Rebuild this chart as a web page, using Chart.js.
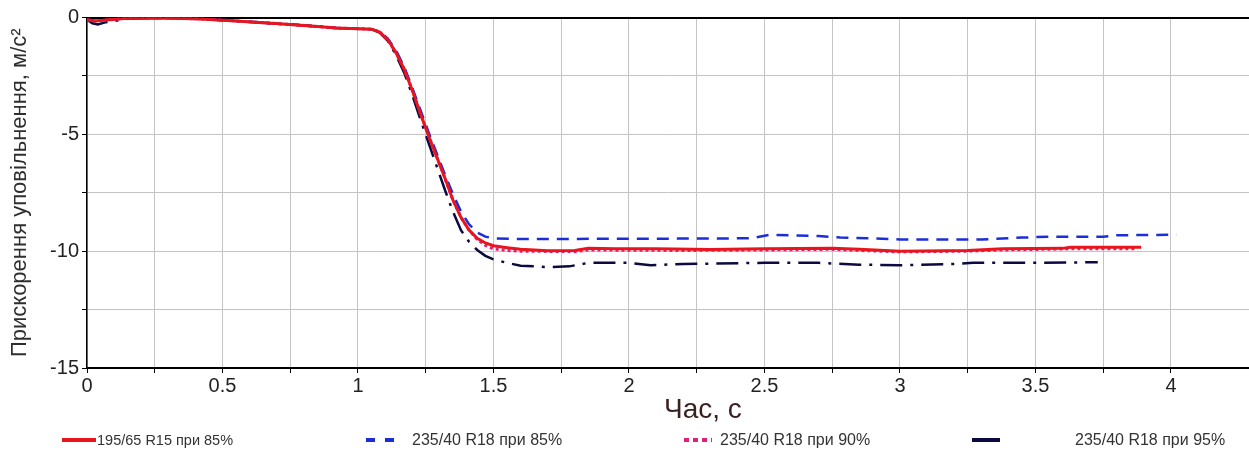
<!DOCTYPE html>
<html>
<head>
<meta charset="utf-8">
<script src="https://cdn.jsdelivr.net/npm/chart.js@4.4.1/dist/chart.umd.min.js"></script>
<style>
  html, body { margin: 0; padding: 0; background: #fff; }
  #wrap { position: relative; width: 1249px; height: 452px; overflow: hidden; font-family: "Liberation Sans", Arial, sans-serif; }
  #c { position: absolute; left: 0; top: 0; }
  #xtitle { position: absolute; left: 664px; top: 393px; font-size: 28px; color: #3a1f1f; white-space: nowrap; }
  .leg { position: absolute; top: 430px; height: 20px; display: flex; align-items: center; color: #333; white-space: nowrap; }
  .leg canvas { display: block; }
</style>
</head>
<body>
<div id="wrap">
  <canvas id="c" width="1249" height="452"></canvas>
  <div id="xtitle">Час, с</div>
</div>
<script>
// ---- data (time in s, deceleration in m/s^2) ----
const seriesLabels = ["195/65 R15 при 85%", "235/40 R18 при 85%", "235/40 R18 при 90%", "235/40 R18 при 95%"];

const redT = [0, 0.03, 0.08, 0.15, 0.3, 0.42, 0.55, 0.65, 0.75, 0.85, 0.92, 1.0, 1.05, 1.08, 1.11, 1.14, 1.17, 1.20, 1.23, 1.26, 1.29, 1.32, 1.35, 1.38, 1.41, 1.44, 1.47, 1.50, 1.55, 1.60, 1.70, 1.80, 1.85, 1.95, 2.1, 2.3, 2.5, 2.75, 2.85, 3.0, 3.25, 3.38, 3.6, 3.63, 3.89];
const redA = [-0.1, -0.15, -0.1, -0.03, -0.02, -0.06, -0.15, -0.22, -0.3, -0.38, -0.45, -0.48, -0.5, -0.62, -0.95, -1.5, -2.2, -3.1, -4.1, -5.05, -5.95, -6.85, -7.8, -8.55, -9.1, -9.45, -9.65, -9.77, -9.85, -9.92, -9.98, -9.97, -9.88, -9.9, -9.9, -9.93, -9.9, -9.87, -9.92, -10.0, -9.97, -9.9, -9.88, -9.83, -9.83];

const blueT = [0, 0.03, 0.08, 0.15, 0.3, 0.42, 0.55, 0.65, 0.75, 0.85, 0.92, 1.0, 1.05, 1.08, 1.11, 1.14, 1.17, 1.20, 1.23, 1.26, 1.29, 1.32, 1.35, 1.38, 1.41, 1.44, 1.47, 1.50, 1.6, 2.0, 2.45, 2.52, 2.7, 2.78, 2.9, 3.0, 3.3, 3.45, 3.55, 3.75, 3.8, 4.02];
const blueA = [-0.1, -0.15, -0.1, -0.03, -0.02, -0.06, -0.15, -0.22, -0.3, -0.38, -0.45, -0.48, -0.5, -0.6, -0.9, -1.4, -2.1, -3.0, -3.95, -4.9, -5.8, -6.7, -7.55, -8.3, -8.85, -9.2, -9.38, -9.45, -9.48, -9.47, -9.45, -9.3, -9.35, -9.42, -9.45, -9.5, -9.5, -9.42, -9.38, -9.38, -9.32, -9.3];

const pinkT = [0, 0.03, 0.08, 0.15, 0.3, 0.42, 0.55, 0.65, 0.75, 0.85, 0.92, 1.0, 1.05, 1.08, 1.11, 1.14, 1.17, 1.20, 1.23, 1.26, 1.29, 1.32, 1.35, 1.38, 1.41, 1.44, 1.47, 1.50, 1.55, 1.6, 1.8, 1.85, 2.2, 2.5, 2.75, 2.85, 3.0, 3.25, 3.38, 3.63, 3.87];
const pinkA = [-0.1, -0.15, -0.1, -0.03, -0.02, -0.06, -0.15, -0.22, -0.3, -0.38, -0.45, -0.48, -0.5, -0.62, -0.95, -1.5, -2.2, -3.1, -4.1, -5.05, -5.95, -6.85, -7.8, -8.55, -9.1, -9.5, -9.75, -9.9, -9.97, -10.0, -10.02, -9.95, -9.97, -9.95, -9.92, -9.97, -10.03, -10.0, -9.95, -9.9, -9.9];

const blackT = [0, 0.02, 0.04, 0.07, 0.1, 0.15, 0.3, 0.42, 0.55, 0.65, 0.75, 0.85, 0.92, 1.0, 1.05, 1.08, 1.11, 1.14, 1.17, 1.20, 1.23, 1.26, 1.29, 1.32, 1.35, 1.38, 1.41, 1.44, 1.47, 1.50, 1.55, 1.6, 1.7, 1.78, 1.85, 2.0, 2.08, 2.2, 2.5, 2.7, 2.85, 3.0, 3.2, 3.27, 3.5, 3.73];
const blackA = [-0.1, -0.25, -0.3, -0.2, -0.15, -0.05, -0.02, -0.06, -0.15, -0.22, -0.3, -0.38, -0.45, -0.48, -0.5, -0.65, -1.0, -1.6, -2.35, -3.3, -4.35, -5.35, -6.35, -7.35, -8.3, -9.1, -9.6, -9.95, -10.2, -10.35, -10.5, -10.62, -10.68, -10.65, -10.5, -10.5, -10.6, -10.55, -10.5, -10.5, -10.58, -10.6, -10.55, -10.5, -10.5, -10.47];

const xTickStep = 0.25, xLabelStep = 0.5;
const yTickStep = 2.5, yLabelStep = 5;

// ---- styles ----
const styles = [
  { color: "#e8141e", width: 3, dash: [] },
  { color: "#1c2ed6", width: 2.5, dash: [12, 8] },
  { color: "#e0207a", width: 3, dash: [3, 3] },
  { color: "#0b0b40", width: 2.5, dash: [22, 8, 3, 8] }
];
const legendLayout = [
  { left: 62, marker: 34, gap: 1, font: 14.5 },
  { left: 366, marker: 30, gap: 16, font: 16 },
  { left: 684, marker: 28, gap: 8, font: 16 },
  { left: 972, marker: 28, gap: 75, font: 16 }
];

const toPts = (t, a) => t.map((v, i) => ({ x: v, y: a[i] }));
const series = [toPts(redT, redA), toPts(blueT, blueA), toPts(pinkT, pinkA), toPts(blackT, blackA)];

const FONT = '"Liberation Sans", Arial, sans-serif';
const near = (v, s) => Math.abs(v / s - Math.round(v / s)) < 1e-6;

const chart = new Chart(document.getElementById('c'), {
  type: 'line',
  data: {
    datasets: series.map((d, i) => ({
      label: seriesLabels[i],
      data: d,
      borderColor: styles[i].color,
      backgroundColor: styles[i].color,
      borderWidth: styles[i].width,
      borderDash: styles[i].dash,
      pointRadius: 0,
      tension: 0,
      fill: false
    }))
  },
  options: {
    responsive: false,
    animation: false,
    events: [],
    layout: { padding: { top: 17.5, left: 0, right: 0, bottom: 0 } },
    plugins: { legend: { display: false }, tooltip: { enabled: false } },
    scales: {
      x: {
        type: 'linear', position: 'bottom', min: 0, max: 4.288,
        afterFit: s => { s.height = 84; },
        afterBuildTicks: s => { s.ticks = s.ticks.filter(t => near(t.value, xTickStep)); },
        ticks: {
          stepSize: xTickStep, autoSkip: false, maxRotation: 0, padding: 1,
          color: '#222', font: { family: FONT, size: 20 },
          callback: v => near(v, xLabelStep) ? String(Math.round(v * 100) / 100) : ''
        },
        grid: { color: '#c4c4c4', lineWidth: 1, tickLength: 5, tickColor: '#000' },
        border: { color: '#000', width: 2 }
      },
      x2: {
        type: 'linear', position: 'top', min: 0, max: 4.288,
        afterFit: s => { s.height = 0; },
        ticks: { display: false },
        grid: { display: false, drawTicks: false },
        border: { color: '#000', width: 2 }
      },
      y: {
        type: 'linear', min: -15, max: 0,
        afterFit: s => { s.width = 87; },
        ticks: {
          stepSize: yTickStep, autoSkip: false, padding: 3,
          color: '#222', font: { family: FONT, size: 20 },
          callback: v => near(v, yLabelStep) ? String(v) : ''
        },
        grid: { color: '#c4c4c4', lineWidth: 1, tickLength: 5, tickColor: '#000' },
        border: { color: '#000', width: 1.5 },
        title: {
          display: true, text: 'Прискорення уповільнення, м/с²',
          color: '#2e2e2e', font: { family: FONT, size: 22 }, padding: { top: 7, bottom: 0 }
        }
      }
    }
  }
});

// ---- HTML legend built from the datasets ----
const wrap = document.getElementById('wrap');
chart.data.datasets.forEach((ds, i) => {
  const L = legendLayout[i];
  const item = document.createElement('div');
  item.className = 'leg';
  item.style.left = L.left + 'px';
  item.style.fontSize = L.font + 'px';
  const m = document.createElement('canvas');
  m.width = L.marker; m.height = 8;
  const g = m.getContext('2d');
  g.strokeStyle = ds.borderColor;
  g.lineWidth = 4;
  g.setLineDash(i === 1 ? [9, 10] : (i === 2 ? [5, 4] : []));
  g.beginPath(); g.moveTo(0, 4); g.lineTo(L.marker, 4); g.stroke();
  const t = document.createElement('span');
  t.textContent = ds.label;
  t.style.marginLeft = L.gap + 'px';
  item.appendChild(m); item.appendChild(t);
  wrap.appendChild(item);
});
</script>
</body>
</html>
